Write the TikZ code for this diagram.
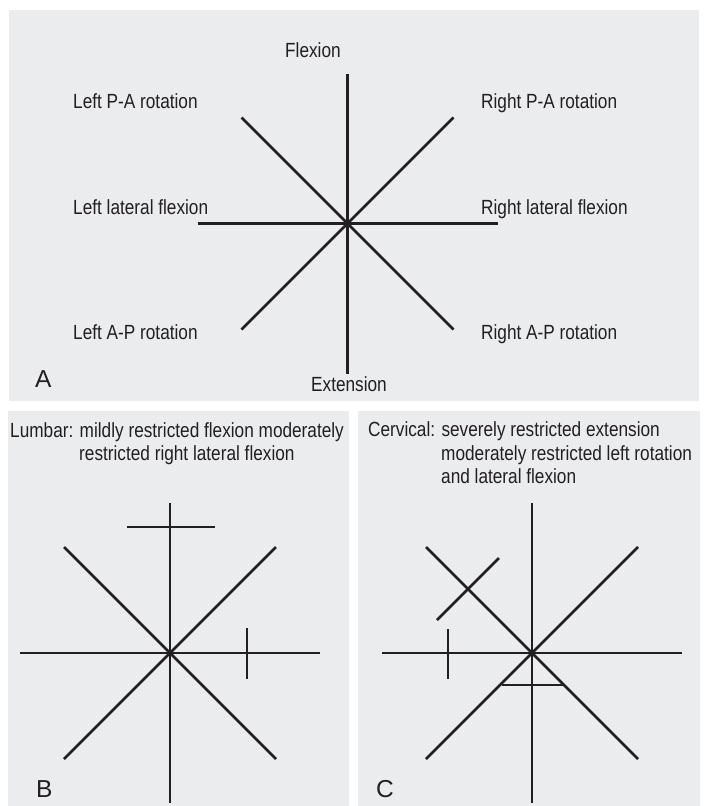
\documentclass[tikz,border=0pt]{standalone}
\usepackage{fontspec}
\setmainfont{Liberation Sans}
\newfontfamily\lblfont[FakeStretch=0.84]{Liberation Sans}
\definecolor{panelbg}{RGB}{235,236,238}
\definecolor{ink}{RGB}{35,31,32}
\begin{document}
\begin{tikzpicture}[x=1pt,y=-1pt,
  axis/.style={draw=ink,line width=2.8pt},
  lbl/.style={font=\lblfont\fontsize{20.5}{24}\selectfont,text=ink,inner sep=0pt,anchor=base west},
  letter/.style={font=\fontsize{24.5}{30}\selectfont,text=ink,inner sep=0pt,anchor=base west},
  starpic/.pic={
    \draw[axis] (0,-150) -- (0,150);
    \draw[axis] (-150,0) -- (150,0);
    \draw[axis] (-106,-106) -- (106,106);
    \draw[axis] (-106,106) -- (106,-106);
  }]
\useasboundingbox (0,0) rectangle (707,806);
\fill[white] (0,0) rectangle (707,806);
\fill[panelbg] (9,10) rectangle (699,401);
\fill[panelbg] (8,411) rectangle (349,806);
\fill[panelbg] (358,411) rectangle (700,806);

% Panel A
\coordinate (cA) at (347.5,223.5);
\pic at (cA) {starpic};
\node[lbl] (flex) at (285,57) {Flexion};
\node[lbl] (ext) at (311,391) {Extension};
\node[lbl] (lpa) at (73,108) {Left P-A rotation};
\node[lbl] (llf) at (73,214) {Left lateral flexion};
\node[lbl] (lap) at (73,339) {Left A-P rotation};
\node[lbl] (rpa) at (481,108) {Right P-A rotation};
\node[lbl] (rlf) at (481,214) {Right lateral flexion};
\node[lbl] (rap) at (481,339) {Right A-P rotation};
\node[letter] (la) at (35,387) {A};

% Panel B
\coordinate (cB) at (170,653);
\pic at (cB) {starpic};
\draw[axis] (127,527) -- (215,527);
\draw[axis] (247,628) -- (247,679);
\node[lbl] (tb1) at (10,437) {Lumbar: mildly restricted flexion moderately};
\node[lbl] (tb2) at (79,460) {restricted right lateral flexion};
\node[letter] (lb) at (36,797) {B};

% Panel C
\coordinate (cC) at (532,653);
\pic at (cC) {starpic};
\draw[axis] (499,558) -- (437,620);
\draw[axis] (448,629) -- (448,679);
\draw[axis] (502,685) -- (563,685);
\node[lbl] (tc1) at (368,436) {Cervical: severely restricted extension};
\node[lbl] (tc2) at (441,460) {moderately restricted left rotation};
\node[lbl] (tc3) at (441,483) {and lateral flexion};
\node[letter] (lc) at (376,797) {C};
\end{tikzpicture}
\end{document}
